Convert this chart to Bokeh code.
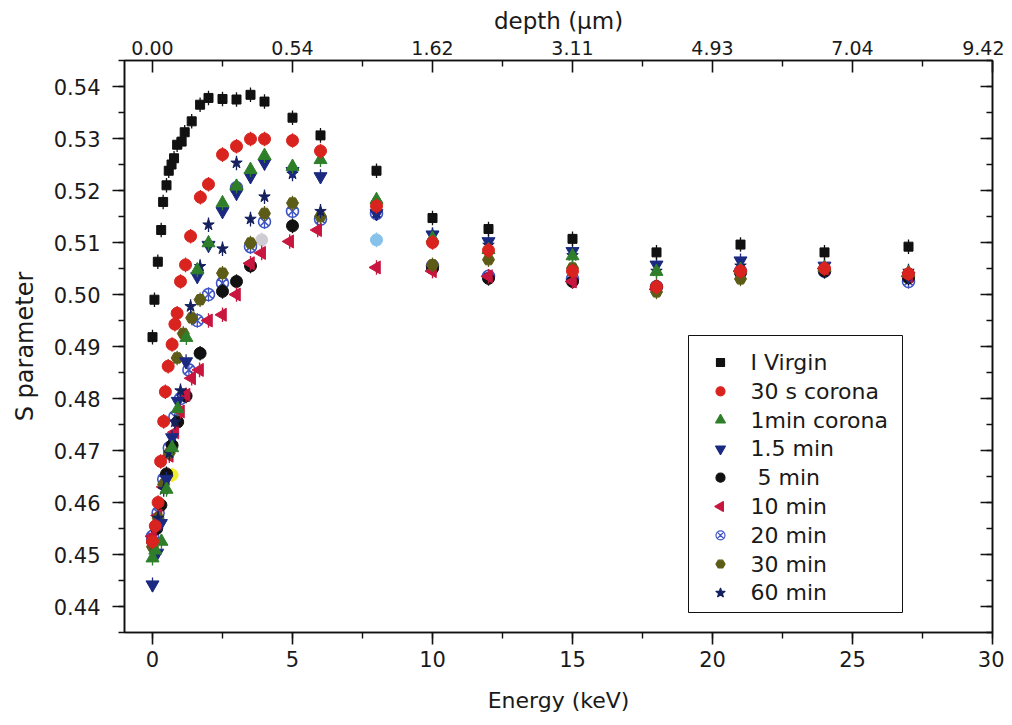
import numpy as np
from bokeh.plotting import figure
from bokeh.models import (LinearAxis, SingleIntervalTicker, FixedTicker, PrintfTickFormatter,
                          ColumnDataSource, Range1d)
from bokeh.core.properties import value
from bokeh.embed import file_html
from bokeh.resources import INLINE

# ---------------- data ----------------
virgin_E = [0, 0.07, 0.19, 0.31, 0.38, 0.5, 0.58, 0.68, 0.77, 0.88, 1.04, 1.15, 1.4, 1.7, 2.0, 2.5, 3.0, 3.5, 4.0, 5, 6, 8, 10, 12, 15, 18, 21, 24, 27]
virgin_S = [0.4918, 0.4990, 0.5063, 0.5124, 0.5178, 0.5210, 0.5238, 0.5250, 0.5262, 0.5288, 0.5294, 0.5312, 0.5333, 0.5365, 0.5378, 0.5376, 0.5375, 0.5384, 0.5371, 0.5340, 0.5306, 0.5238, 0.5147, 0.5126, 0.5107, 0.5081, 0.5096, 0.5081, 0.5092]

c30s_E = [0, 0.1, 0.2, 0.29, 0.4, 0.46, 0.56, 0.7, 0.8, 0.88, 1.0, 1.18, 1.36, 1.71, 2.0, 2.5, 3.0, 3.5, 4.0, 5, 6, 8, 10, 12, 15, 18, 21, 24, 27]
c30s_S = [0.4525, 0.4555, 0.4600, 0.4679, 0.4756, 0.4813, 0.4862, 0.4904, 0.4943, 0.4964, 0.5025, 0.5057, 0.5112, 0.5187, 0.5212, 0.5269, 0.5285, 0.5299, 0.5299, 0.5296, 0.5276, 0.5170, 0.5100, 0.5085, 0.5045, 0.5015, 0.5045, 0.5050, 0.5040]

c1m_E = [0, 0.1, 0.32, 0.5, 0.7, 0.9, 1.21, 1.6, 2.0, 2.5, 3.0, 3.5, 4.0, 5, 6, 8, 10, 12, 15, 18, 21, 24, 27]
c1m_S = [0.4493, 0.4508, 0.4525, 0.4625, 0.4705, 0.4780, 0.4917, 0.5047, 0.5099, 0.5176, 0.5208, 0.5240, 0.5267, 0.5246, 0.5259, 0.5182, 0.5108, 0.5086, 0.5074, 0.5044, 0.5048, 0.5052, 0.5042]

m15_E = [0, 0.17, 0.3, 0.5, 0.7, 0.9, 1.2, 1.6, 2.0, 2.5, 3.0, 3.5, 4.0, 5, 6, 8, 10, 12, 15, 18, 21, 24, 27]
m15_S = [0.4442, 0.4503, 0.4560, 0.4645, 0.4725, 0.4795, 0.4871, 0.5035, 0.5095, 0.5160, 0.5195, 0.5227, 0.5253, 0.5237, 0.5227, 0.5156, 0.5115, 0.5102, 0.5083, 0.5057, 0.5065, 0.5055, 0.5035]

m5_E = [0, 0.15, 0.3, 0.5, 0.7, 0.9, 1.2, 1.7, 2.5, 3.0, 3.5, 5, 10, 12, 15, 18, 21, 24, 27]
m5_S = [0.4525, 0.4550, 0.4595, 0.4655, 0.4710, 0.4755, 0.4805, 0.4887, 0.5006, 0.5025, 0.5055, 0.5132, 0.5050, 0.5031, 0.5025, 0.5015, 0.5042, 0.5045, 0.5032]

m10_E = [0, 0.2, 0.4, 0.6, 0.8, 1.0, 1.2, 1.4, 1.68, 2.0, 2.5, 3.0, 3.5, 3.9, 4.9, 5.9, 8, 10, 12, 15, 18, 21, 24, 27]
m10_S = [0.4535, 0.4575, 0.4630, 0.4690, 0.4735, 0.4775, 0.4807, 0.4839, 0.4855, 0.4950, 0.4961, 0.5000, 0.5060, 0.5080, 0.5102, 0.5124, 0.5052, 0.5045, 0.5035, 0.5025, 0.5010, 0.5045, 0.5050, 0.5035]

m20_E = [0, 0.2, 0.4, 0.6, 0.8, 1.0, 1.3, 1.6, 2.0, 2.5, 3.0, 3.5, 4.0, 5, 6, 8, 10, 12, 15, 18, 21, 24, 27]
m20_S = [0.4535, 0.4580, 0.4645, 0.4705, 0.4765, 0.4800, 0.4855, 0.4950, 0.5000, 0.5022, 0.5205, 0.5092, 0.5140, 0.5160, 0.5145, 0.5156, 0.5055, 0.5035, 0.5030, 0.5015, 0.5045, 0.5045, 0.5025]

m30_E = [0, 0.2, 0.4, 0.6, 0.88, 1.1, 1.4, 1.7, 2.5, 3.0, 3.5, 4.0, 5, 6, 8, 10, 12, 15, 18, 21, 24, 27]
m30_S = [0.4515, 0.4570, 0.4635, 0.4695, 0.4878, 0.4925, 0.4955, 0.4990, 0.5041, 0.5204, 0.5099, 0.5156, 0.5176, 0.5150, 0.5176, 0.5057, 0.5067, 0.5051, 0.5005, 0.5030, 0.5050, 0.5040]

m60_E = [0, 0.2, 0.4, 0.6, 0.8, 1.0, 1.36, 1.7, 2.0, 2.5, 3.0, 3.5, 4.0, 5, 6, 8, 10, 12, 15, 18, 21, 24, 27]
m60_S = [0.4525, 0.4570, 0.4625, 0.4695, 0.4755, 0.4815, 0.4977, 0.5054, 0.5134, 0.5088, 0.5253, 0.5145, 0.5188, 0.5232, 0.5160, 0.5157, 0.5115, 0.5095, 0.5075, 0.5045, 0.5055, 0.5050, 0.5045]

grey_E = [3.9]
grey_S = [0.5105]
lightblue_E = [8]
lightblue_S = [0.5105]
yellow_E = [0.7]
yellow_S = [0.4653]

S_err = 0.0014

depth_ticks_E = [0, 5, 10, 15, 20, 25, 30]
depth_labels = ["0.00", "0.54", "1.62", "3.11", "4.93", "7.04", "9.42"]

labels = ["I Virgin", "30 s corona", "1min corona", "1.5 min", "\u00a05 min", "10 min", "20 min", "30 min", "60 min"]

# ---------------- figure ----------------
FONT = "DejaVu Sans"
TXT = "#1a1a1a"
X0, X1, Y0, Y1 = -1.0, 30.0, 0.435, 0.545
FW, FH = 868, 572

p = figure(frame_width=FW, frame_height=FH, min_border_left=124, min_border_right=12,
           min_border_top=60, min_border_bottom=84,
           x_range=Range1d(X0, X1), y_range=Range1d(Y0, Y1),
           output_backend="svg", toolbar_location=None, x_axis_location=None, y_axis_location=None)
p.xgrid.visible = False
p.ygrid.visible = False
p.outline_line_color = "#111111"
p.outline_line_width = 1.5
p.background_fill_color = "white"
p.border_fill_color = "white"

def style_axis(ax):
    ax.axis_line_color = "#111111"
    ax.axis_line_width = 1.6
    ax.major_tick_line_color = "#111111"
    ax.minor_tick_line_color = "#111111"
    ax.major_tick_line_width = 1.6
    ax.minor_tick_line_width = 1.4
    ax.major_label_text_font = FONT
    ax.major_label_text_color = TXT
    ax.axis_label_text_font = FONT
    ax.axis_label_text_font_style = "normal"
    ax.axis_label_text_color = TXT

xb = LinearAxis(ticker=SingleIntervalTicker(interval=5, num_minor_ticks=2), axis_label="Energy (keV)")
style_axis(xb)
xb.major_tick_out = 12; xb.major_tick_in = 0; xb.minor_tick_out = 6; xb.minor_tick_in = 0
xb.major_label_text_font_size = "21px"
xb.axis_label_text_font_size = "22px"
xb.major_label_standoff = 6
xb.axis_label_standoff = 18
p.add_layout(xb, "below")

xt = LinearAxis(ticker=FixedTicker(ticks=depth_ticks_E, minor_ticks=[2.5, 7.5, 12.5, 17.5, 22.5, 27.5]),
                axis_label="depth (\u03bcm)")
style_axis(xt)
xt.major_label_overrides = {t: l for t, l in zip(depth_ticks_E, depth_labels)}
xt.major_tick_out = 0; xt.major_tick_in = 12; xt.minor_tick_out = 0; xt.minor_tick_in = 6
xt.major_label_text_font_size = "19px"
xt.axis_label_text_font_size = "23px"
xt.major_label_standoff = 6
xt.axis_label_standoff = 4
p.add_layout(xt, "above")

yl = LinearAxis(ticker=SingleIntervalTicker(interval=0.01, num_minor_ticks=2), axis_label="S parameter",
                formatter=PrintfTickFormatter(format="%.2f"))
style_axis(yl)
yl.major_tick_out = 12; yl.major_tick_in = 0; yl.minor_tick_out = 6; yl.minor_tick_in = 0
yl.major_label_text_font_size = "21px"
yl.axis_label_text_font_size = "24px"
yl.major_label_standoff = 12
yl.axis_label_standoff = 12
p.add_layout(yl, "left")

yr = LinearAxis(ticker=SingleIntervalTicker(interval=0.01, num_minor_ticks=2))
style_axis(yr)
yr.major_tick_out = 0; yr.major_tick_in = 12; yr.minor_tick_out = 0; yr.minor_tick_in = 6
yr.major_label_text_font_size = "0px"
yr.major_label_text_alpha = 0
p.add_layout(yr, "right")

# ---------------- series ----------------
def add_series(E, S, marker, color, size, fill=True, angle=0.0, lw=1.0):
    E = np.asarray(E, float); S = np.asarray(S, float)
    src = ColumnDataSource(dict(x=E, y=S, lo=S - S_err, hi=S + S_err))
    p.segment(x0="x", y0="lo", x1="x", y1="hi", source=src, line_color=color, line_width=1.3)
    p.scatter(x="x", y="y", source=src, marker=marker, size=size, angle=angle,
              fill_color=color if fill else None, line_color=color, line_width=lw)

C_BLACK = "#111111"; C_RED = "#d9231f"; C_GREEN = "#2f7f2a"; C_NAVY = "#1b2a80"
C_CRIMSON = "#c8163f"; C_BLUE = "#3f55c4"; C_OLIVE = "#5d5c17"; C_STAR = "#15205e"

add_series(grey_E, grey_S, "circle", "#cfcdd3", 12)
add_series(lightblue_E, lightblue_S, "circle", "#86c2ea", 12)
add_series(yellow_E, yellow_S, "circle", "#f2ea2a", 12)
add_series(m20_E, m20_S, "circle_x", C_BLUE, 12, fill=False, lw=1.6)
add_series(m5_E, m5_S, "circle", C_BLACK, 12)
add_series(m10_E, m10_S, "triangle", C_CRIMSON, 13, angle=np.pi / 2)
add_series(m30_E, m30_S, "hex", C_OLIVE, 12)
add_series(m60_E, m60_S, "star", C_STAR, 12)
add_series(m15_E, m15_S, "inverted_triangle", C_NAVY, 13)
add_series(c1m_E, c1m_S, "triangle", C_GREEN, 13)
add_series(c30s_E, c30s_S, "circle", C_RED, 12)
add_series(virgin_E, virgin_S, "square", C_BLACK, 9)

# ---------------- legend box (drawn with glyphs so the swatches keep their orientation) ----------------
def px_to_x(px):   # horizontal screen offset from frame left -> data x
    return X0 + px * (X1 - X0) / FW

def py_to_y(py):   # vertical screen offset from frame top -> data y
    return Y1 - py * (Y1 - Y0) / FH

LEG_L, LEG_R, LEG_T, LEG_B = 564, 778, 275, 552      # box edges, px from frame left / top
ROW0, ROW_H, SW_X, TXT_X = 302, 28.8, 596, 626        # first row centre, row step, swatch & text x

p.quad(left=[px_to_x(LEG_L)], right=[px_to_x(LEG_R)], top=[py_to_y(LEG_T)], bottom=[py_to_y(LEG_B)],
       fill_color="white", line_color="#111111", line_width=1)

leg_marker = ["square", "circle", "triangle", "inverted_triangle", "circle", "triangle",
              "circle_x", "hex", "star"]
leg_color = [C_BLACK, C_RED, C_GREEN, C_NAVY, C_BLACK, C_CRIMSON, C_BLUE, C_OLIVE, C_STAR]
leg_fill_alpha = [1, 1, 1, 1, 1, 1, 0, 1, 1]
leg_angle = [0, 0, 0, 0, 0, np.pi / 2, 0, 0, 0]
leg_size = [8, 9, 10, 10, 9, 10, 9, 9, 10]
rows = np.arange(len(labels))
leg_src = ColumnDataSource(dict(
    x=[px_to_x(SW_X)] * len(labels), tx=[px_to_x(TXT_X)] * len(labels),
    y=[py_to_y(ROW0 + r * ROW_H) for r in rows], marker=leg_marker, color=leg_color,
    fa=leg_fill_alpha, angle=leg_angle, size=leg_size, label=labels))
p.scatter(x="x", y="y", source=leg_src, marker="marker", size="size", angle="angle",
          fill_color="color", fill_alpha="fa", line_color="color", line_width=1.2)
p.text(x="tx", y="y", text="label", source=leg_src, text_font=value(FONT),
       text_font_size="22px", text_color=TXT, text_baseline="middle", text_align="left")

open("out.html", "w").write(file_html(p, INLINE))
